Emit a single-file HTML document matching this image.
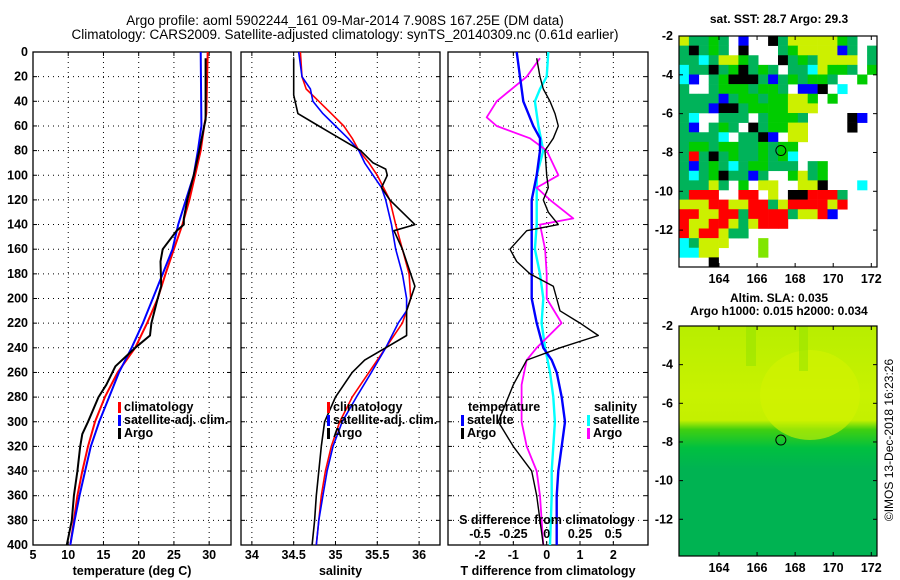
<!DOCTYPE html>
<html><head><meta charset="utf-8"><style>
html,body{margin:0;padding:0;background:#fff}
svg{display:block}
text{font-family:"Liberation Sans",sans-serif;fill:#000}
</style></head><body>
<svg id="c" width="900" height="580" viewBox="0 0 900 580" xmlns="http://www.w3.org/2000/svg">
<text x="345" y="25" font-size="13.5" text-anchor="middle">Argo profile: aoml 5902244_161 09-Mar-2014 7.908S 167.25E (DM data)</text>
<text x="345" y="39" font-size="13.5" text-anchor="middle">Climatology: CARS2009. Satellite-adjusted climatology: synTS_20140309.nc (0.61d earlier)</text>
<text x="779" y="23" font-size="12" font-weight="bold" text-anchor="middle">sat. SST: 28.7 Argo: 29.3</text>
<text x="779" y="302" font-size="12" font-weight="bold" text-anchor="middle">Altim. SLA: 0.035</text>
<text x="779" y="315" font-size="12" font-weight="bold" text-anchor="middle">Argo h1000: 0.015 h2000: 0.034</text>
<text transform="translate(893,440) rotate(-90)" font-size="12" text-anchor="middle">©IMOS 13-Dec-2018 16:23:26</text>
</svg>
<script>
// ---- data ----
const depthTicks=[0,20,40,60,80,100,120,140,160,180,200,220,240,260,280,300,320,340,360,380,400];
const tempTicks=[5,10,15,20,25,30];
const salTicks=[34,34.5,35,35.5,36];
const dTTicks=[-2,-1,0,1,2];
const dSTicks=[-0.5,-0.25,0,0.25,0.5];
const dSTickLabels=["-0.5","-0.25","0","0.25","0.5"];
const tClimDepth=[0,50,60,80,100,120,140,160,180,200,220,240,260,280,300,320,340,360,380,400];
const tClim=[29.8,29.6,29.3,28.8,28.0,27.2,26.2,25.0,23.8,22.7,21.2,19.5,17.0,15.2,13.8,12.8,12.0,11.3,10.8,10.3];
const tSatDepth=[0,60,80,100,120,140,160,180,200,220,240,260,280,300,320,340,360,380,400];
const tSat=[28.8,28.9,28.4,27.8,26.7,25.6,24.8,23.4,22.0,20.6,19.0,17.2,15.8,14.4,13.2,12.4,11.6,10.9,10.3];
const tArgoDepth=[5,55,60,80,100,120,135,140,145,160,170,190,200,220,230,240,255,270,280,300,310,320,340,360,380,400];
const tArgo=[29.5,29.5,29.3,28.6,27.8,26.9,26.4,26.4,25.4,23.4,23.1,23.2,22.7,21.8,21.6,19.5,16.7,15.4,14.3,12.8,12.0,11.7,11.3,10.8,10.5,9.8];
const sClimDepth=[0,20,30,40,50,60,70,80,90,100,120,140,160,180,200,220,240,260,280,300,320,340,360,380,400];
const sClim=[34.58,34.6,34.65,34.8,34.95,35.1,35.2,35.28,35.4,35.5,35.65,35.72,35.8,35.88,35.9,35.8,35.6,35.4,35.2,35.05,34.95,34.88,34.83,34.8,34.77];
const sSatDepth=[0,20,30,40,50,60,70,80,90,100,110,120,140,160,180,200,210,220,240,260,280,300,320,340,360,380,400];
const sSat=[34.56,34.6,34.7,34.73,34.85,35.0,35.15,35.28,35.35,35.45,35.55,35.6,35.67,35.72,35.8,35.85,35.85,35.75,35.6,35.43,35.25,35.08,34.97,34.9,34.85,34.8,34.77];
const sArgoDepth=[5,35,50,60,70,80,90,95,100,110,120,140,145,160,180,190,200,210,230,240,250,260,270,280,300,320,340,360,380,400];
const sArgo=[34.5,34.5,34.55,34.8,35.05,35.3,35.45,35.6,35.62,35.55,35.65,35.95,35.7,35.8,35.9,35.95,35.9,35.85,35.85,35.6,35.35,35.2,35.1,35.0,34.87,34.83,34.8,34.77,34.75,34.72];
const dTSatDepth=[0,20,40,50,60,70,80,100,120,140,160,180,200,220,240,250,260,280,300,320,340,360,400];
const dTSat=[-0.9,-0.8,-0.7,-0.55,-0.4,-0.2,-0.2,-0.3,-0.45,-0.45,-0.45,-0.45,-0.45,-0.3,-0.1,0.15,0.3,0.45,0.55,0.45,0.35,0.3,0.3];
const dTArgoDepth=[5,20,30,40,50,60,70,80,100,110,120,130,140,145,160,170,180,190,200,210,220,230,240,250,260,270,290,300,320,340,360,380,400];
const dTArgo=[-0.3,-0.2,-0.1,0.1,0.25,0.35,0.2,-0.05,0.0,0.05,-0.1,0.05,0.35,-0.6,-1.1,-0.9,-0.5,0.2,0.3,0.4,1.0,1.55,0.4,-0.6,-0.8,-1.0,-1.3,-1.45,-1.0,-0.45,-0.3,-0.2,-0.1];
const dSSatDepth=[0,20,30,40,60,80,100,120,140,160,180,200,220,240,260,280,300,320,340,360,400];
const dSSat=[0.012,0,-0.05,-0.088,-0.062,-0.025,-0.075,-0.075,-0.075,-0.088,-0.05,-0.025,-0.038,-0.012,0.025,0.05,0.062,0.05,0.038,0.038,0.025];
const dSArgoDepth=[5,20,40,53,60,70,80,100,110,120,135,140,160,180,200,220,240,250,270,300,320,340,360,400];
const dSArgo=[-0.05,-0.15,-0.375,-0.45,-0.375,-0.125,0,0.088,-0.075,0.025,0.2,-0.05,-0.012,0,0,0.112,-0.075,-0.15,-0.188,-0.188,-0.15,-0.075,-0.05,-0.025];
const lonTicks=[164,166,168,170,172];
const latTicks=[-2,-4,-6,-8,-10,-12];
const argoLon=167.25, argoLat=-7.9;
const sstGrid=[
"yggGgwbwwkgyyyyyGgww",
"gkgGgwkwwwgGyyyybgwg",
"ggcgyyGgwwkgGgyyyywg",
"cggkgGkgGgwggcyGGgwG",
"cbwgGkkkgbgGgGGgwwGw",
"gwwgGGGgGGgwbbkwcwww",
"ggggbgGGgGGyyGwGwwww",
"gggbkkgGGGGyyywwwwww",
"gcwwgggwgGGGgwwwwkbw",
"gbwgGgwkgGGyywwwwkww",
"ggggcwggkbwyywwwwwww",
"gGGgGGggGgGGwwwwwwww",
"grgkgGggGgGcwwwwwwww",
"gbgGgcgGGgggwgGwwwww",
"gcgGkggbgwwGygGwwwww",
"gggygwGwyywwyykwwwcw",
"grrrwwrrwywkkrrrgwww",
"yyyrryyrrgyrrrryrwww",
"rryyrrgrrrrgyyrbwwww",
"ryyrrygyrrrwwwwwwwww",
"ryrryggwwwwwwwwwwwww",
"cgyyywwwlwwwwwwwwwww",
"ccyywwwwlwwwwwwwwwww",
"wwwkwwwwwwwwwwwwwwww"];
// ---- drawing ----
const svg=document.getElementById('c');
const NS='http://www.w3.org/2000/svg';
function el(tag,attrs,parent){const e=document.createElementNS(NS,tag);for(const k in attrs)e.setAttribute(k,attrs[k]);(parent||svg).appendChild(e);return e;}
function txt(x,y,s,attrs){const t=el('text',Object.assign({x:x,y:y,'font-size':12.5,'font-weight':'bold'},attrs||{}));t.textContent=s;return t;}
const TOP=52,BOT=545;
function yD(d){return TOP+(BOT-TOP)*d/400;}
const panels=[
 {name:'temperature',x0:33,x1:231,v0:5,v1:33.1,ticks:tempTicks,label:'temperature (deg C)'},
 {name:'salinity',x0:241,x1:440,v0:33.87,v1:36.25,ticks:salTicks,label:'salinity'},
 {name:'difference',x0:448,x1:648,v0:-2.96,v1:3.04,ticks:dTTicks,label:'T difference from climatology'}];
function xf(p){return v=>p.x0+(p.x1-p.x0)*(v-p.v0)/(p.v1-p.v0);}
panels.forEach((p,i)=>{
 const g=el('g',{});
 
 
 const X=xf(p);
 depthTicks.forEach(d=>{
  if(d>0&&d<400){const l=el('line',{x1:p.x0,x2:p.x1,y1:yD(d),y2:yD(d),stroke:'#000','stroke-width':1,'stroke-dasharray':'1,4'},g);
   }
  el('line',{x1:p.x0,x2:p.x0+4,y1:yD(d),y2:yD(d),stroke:'#000'},g);
  el('line',{x1:p.x1,x2:p.x1-4,y1:yD(d),y2:yD(d),stroke:'#000'},g);
 });
 p.ticks.forEach(v=>{
  const x=X(v);
  const l=el('line',{x1:x,x2:x,y1:TOP,y2:BOT,stroke:'#000','stroke-width':1,'stroke-dasharray':'1,4'},g);
  
  el('line',{x1:x,x2:x,y1:BOT,y2:BOT-4,stroke:'#000'},g);
  el('line',{x1:x,x2:x,y1:TOP,y2:TOP+4,stroke:'#000'},g);
  const t=txt(x,559,String(v),{'text-anchor':'middle'});
  
 });
 const r=el('rect',{x:p.x0,y:TOP,width:p.x1-p.x0,height:BOT-TOP,fill:'none',stroke:'#000','stroke-width':1.3},g);
 
 const xl=txt((p.x0+p.x1)/2,575,p.label,{'text-anchor':'middle'});
 
});
depthTicks.forEach(d=>{const t=txt(28,yD(d)+4,String(d),{'text-anchor':'end'});
 });
function line(p,vals,depths,color,w,name,scale){
 const X=xf(p);const s=scale||1;
 const pts=vals.map((v,k)=>X(v*s).toFixed(1)+','+yD(depths[k]).toFixed(1)).join(' ');
 const e=el('polyline',{points:pts,fill:'none',stroke:color,'stroke-width':w,'stroke-linejoin':'round'});
 
 
}
line(panels[0],tClim,tClimDepth,'#f00',2,'temp-climatology-line');
line(panels[0],tSat,tSatDepth,'#00f',2,'temp-satellite-line');
line(panels[0],tArgo,tArgoDepth,'#000',2,'temp-argo-line');
line(panels[1],sClim,sClimDepth,'#f00',1.6,'sal-climatology-line');
line(panels[1],sSat,sSatDepth,'#00f',1.6,'sal-satellite-line');
line(panels[1],sArgo,sArgoDepth,'#000',1.6,'sal-argo-line');
line(panels[2],dSSat,dSSatDepth,'#0ff',2.4,'dsal-satellite-line',4);
line(panels[2],dSArgo,dSArgoDepth,'#f0f',1.8,'dsal-argo-line',4);
line(panels[2],dTSat,dTSatDepth,'#00f',2.4,'dtemp-satellite-line');
line(panels[2],dTArgo,dTArgoDepth,'#000',1.4,'dtemp-argo-line');
// S diff ticks
const Xd=xf(panels[2]);
dSTicks.forEach((v,k)=>{const t=txt(Xd(v*4),538,dSTickLabels[k],{'text-anchor':'middle'});
 });
const st=txt(547,524,'S difference from climatology',{'text-anchor':'middle'});

// legends
function leg(x,y,color,label,name){
 const b=el('rect',{x:x,y:y-9,width:3,height:11,fill:color});
 
 const t=txt(x+6,y,label,{});
}
leg(118,411,'#f00','climatology','legend-climatology');
leg(118,424,'#00f','satellite-adj. clim.','legend-satellite');
leg(118,437,'#000','Argo','legend-argo');
leg(327,411,'#f00','climatology','legend2-climatology');
leg(327,424,'#00f','satellite-adj. clim.','legend2-satellite');
leg(327,437,'#000','Argo','legend2-argo');
const lt=txt(468,411,'temperature',{});
const ls=txt(594,411,'salinity',{});
leg(461,424,'#00f','satellite','legend-dtemp-satellite');
leg(461,437,'#000','Argo','legend-dtemp-argo');
leg(587,424,'#0ff','satellite','legend-dsal-satellite');
leg(587,437,'#f0f','Argo','legend-dsal-argo');
// maps
const MX0=679,MX1=877,LON0=161.9,LON1=172.3,LAT0=-2,LAT1=-13.9;
function lx(l){return MX0+(MX1-MX0)*(l-LON0)/(LON1-LON0);}
function map(y0,y1,name,fillFn){
 const g=el('g',{});
 
 
 const ly=l=>y0+(y1-y0)*(l-LAT0)/(LAT1-LAT0);
 fillFn(g,y0,y1);
 el('rect',{x:MX0,y:y0,width:MX1-MX0,height:y1-y0,fill:'none',stroke:'#000','stroke-width':1.2},g);
 lonTicks.forEach(l=>{el('line',{x1:lx(l),x2:lx(l),y1:y0,y2:y0+4,stroke:'#000'},g);el('line',{x1:lx(l),x2:lx(l),y1:y1,y2:y1-4,stroke:'#000'},g);
  const t=txt(lx(l),y1+16,String(l),{'text-anchor':'middle'});});
 latTicks.forEach(l=>{el('line',{x1:MX0,x2:MX0+4,y1:ly(l),y2:ly(l),stroke:'#000'},g);el('line',{x1:MX1,x2:MX1-4,y1:ly(l),y2:ly(l),stroke:'#000'},g);
  const t=txt(MX0-6,ly(l)+4,String(l),{'text-anchor':'end'});});
 const c=el('circle',{cx:lx(argoLon),cy:ly(argoLat),r:5,fill:'none',stroke:'#000','stroke-width':1},g);
 
}
const cmap={g:'#00b35a',G:'#00cc00',y:'#ccf000',l:'#80e600',r:'#f00',b:'#00f',k:'#000',c:'#0ff'};
map(36,267,'sst-map',(g,y0,y1)=>{
 const rows=sstGrid.length,cols=sstGrid[0].length,cw=(MX1-MX0)/cols,ch=(y1-y0)/rows;
 sstGrid.forEach((row,ri)=>{for(let ci=0;ci<cols;ci++){const ch_=row[ci];if(ch_==='w'||!cmap[ch_])continue;
  el('rect',{x:MX0+ci*cw,y:y0+ri*ch,width:cw+0.3,height:ch+0.3,fill:cmap[ch_]},g);}});
});
map(326,556,'sla-map',(g,y0,y1)=>{
 const defs=el('defs',{},g);
 const lg=el('linearGradient',{id:'slag',x1:0,y1:0,x2:0,y2:1},defs);
 [['0','#b8ee00'],['0.3','#c8f200'],['0.41','#c4f000'],['0.45','#40d010'],['0.53','#00c040'],['0.62','#00b352'],['1','#00b352']].forEach(s=>el('stop',{offset:s[0],'stop-color':s[1]},lg));
 el('rect',{x:MX0,y:y0,width:MX1-MX0,height:y1-y0,fill:'url(#slag)'},g);
 el('ellipse',{cx:810,cy:395,rx:50,ry:45,fill:'#d4f400',opacity:0.6},g);
 el('rect',{x:746,y:326,width:10,height:40,fill:'#90e200',opacity:0.5},g);
 el('rect',{x:799,y:326,width:9,height:45,fill:'#90e200',opacity:0.5},g);
});
</script>
</body></html>
